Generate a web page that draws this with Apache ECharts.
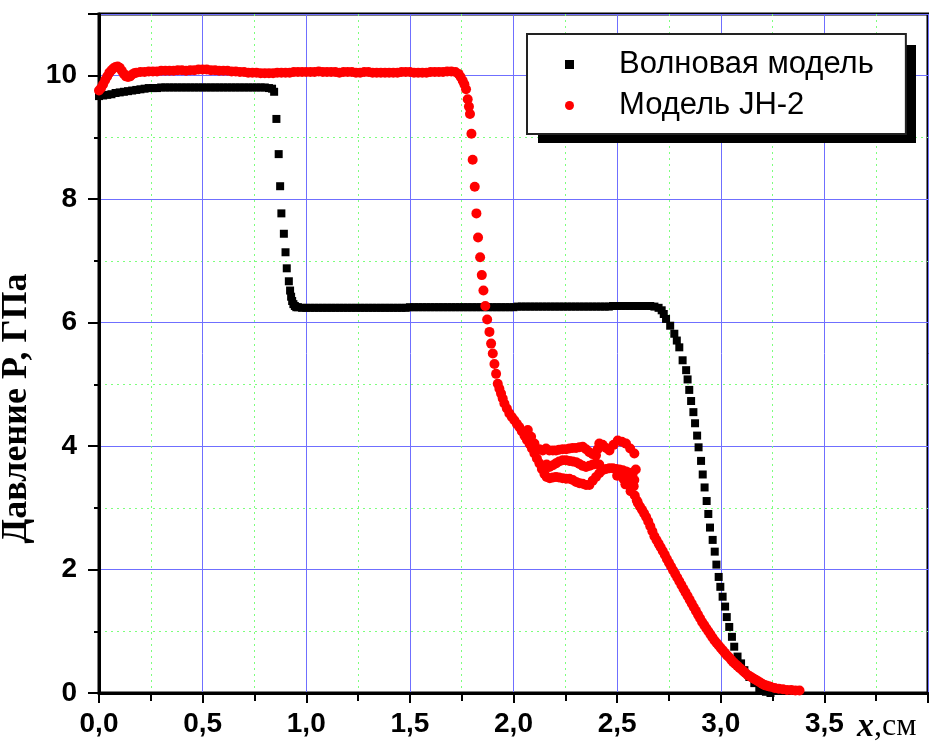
<!DOCTYPE html>
<html>
<head>
<meta charset="utf-8">
<script src="https://cdn.jsdelivr.net/npm/echarts@6/dist/echarts.min.js"></script>
<style>html,body{margin:0;padding:0;background:#fff;}#chart{width:929px;height:748px;}</style>
</head>
<body>
<div id="chart"></div>
<script>
// ---- data (x in cm, P in GPa) ----
const seriesNames = ['Волновая модель', 'Модель JH-2'];
const xTickValues = [0, 0.5, 1, 1.5, 2, 2.5, 3, 3.5];
const yTickValues = [0, 2, 4, 6, 8, 10];

// Волновая модель (black squares)
const waveHigh = [[0,9.67],[0.02,9.68],[0.04,9.69],[0.06,9.70],[0.08,9.72],[0.10,9.73],[0.12,9.74],[0.14,9.75],[0.16,9.76],[0.18,9.77],[0.20,9.78],[0.22,9.79],[0.24,9.80],[0.26,9.80],[0.28,9.80],[0.30,9.81],[0.32,9.81],[0.34,9.81],[0.36,9.81],[0.38,9.81],[0.40,9.81],[0.42,9.81],[0.44,9.81],[0.46,9.81],[0.48,9.81],[0.50,9.81],[0.52,9.81],[0.54,9.81],[0.56,9.81],[0.58,9.81],[0.60,9.81],[0.62,9.81],[0.64,9.81],[0.66,9.81],[0.68,9.81],[0.70,9.81],[0.72,9.81],[0.74,9.81],[0.76,9.81],[0.78,9.81],[0.80,9.81],[0.82,9.80]];
const waveDrop1 = [[0.835,9.79],[0.845,9.74],[0.856,9.30],[0.867,8.73],[0.874,8.21],[0.880,7.77],[0.892,7.44],[0.900,7.14],[0.906,6.88],[0.916,6.67],[0.922,6.52],[0.927,6.42],[0.932,6.35],[0.938,6.30],[0.945,6.27],[0.952,6.25]];
const waveMid = [[0.96,6.25],[0.98,6.24],[1.00,6.24],[1.02,6.24],[1.04,6.24],[1.06,6.24],[1.08,6.24],[1.10,6.24],[1.12,6.24],[1.14,6.24],[1.16,6.24],[1.18,6.24],[1.20,6.24],[1.22,6.24],[1.24,6.24],[1.26,6.24],[1.28,6.24],[1.30,6.24],[1.32,6.24],[1.34,6.24],[1.36,6.24],[1.38,6.24],[1.40,6.24],[1.42,6.24],[1.44,6.24],[1.46,6.24],[1.48,6.24],[1.50,6.25],[1.52,6.25],[1.54,6.25],[1.56,6.25],[1.58,6.25],[1.60,6.25],[1.62,6.25],[1.64,6.25],[1.66,6.25],[1.68,6.25],[1.70,6.25],[1.72,6.25],[1.74,6.25],[1.76,6.25],[1.78,6.25],[1.80,6.25],[1.82,6.25],[1.84,6.25],[1.86,6.25],[1.88,6.25],[1.90,6.25],[1.92,6.25],[1.94,6.25],[1.96,6.25],[1.98,6.25],[2.00,6.25],[2.02,6.26],[2.04,6.26],[2.06,6.26],[2.08,6.26],[2.10,6.26],[2.12,6.26],[2.14,6.26],[2.16,6.26],[2.18,6.26],[2.20,6.26],[2.22,6.26],[2.24,6.26],[2.26,6.26],[2.28,6.26],[2.30,6.26],[2.32,6.26],[2.34,6.26],[2.36,6.26],[2.38,6.26],[2.40,6.26],[2.42,6.26],[2.44,6.26],[2.46,6.26],[2.48,6.27],[2.50,6.27],[2.52,6.27],[2.54,6.27],[2.56,6.27],[2.58,6.27],[2.60,6.27],[2.62,6.27],[2.64,6.27],[2.66,6.27]];
const waveDrop2 = [[2.68,6.26],[2.70,6.24],[2.715,6.20],[2.725,6.14],[2.736,6.06],[2.756,5.95],[2.776,5.82],[2.788,5.71],[2.800,5.60],[2.816,5.39],[2.833,5.23],[2.840,5.08],[2.848,4.91],[2.857,4.73],[2.868,4.55],[2.876,4.37],[2.886,4.17],[2.893,3.98],[2.905,3.76],[2.913,3.54],[2.922,3.33],[2.932,3.11],[2.940,2.90],[2.948,2.68],[2.961,2.48],[2.971,2.29],[2.979,2.08],[2.990,1.88],[2.998,1.72],[3.009,1.56],[3.021,1.40],[3.029,1.23],[3.041,1.07],[3.054,0.91],[3.065,0.75],[3.081,0.59],[3.098,0.48],[3.114,0.37],[3.138,0.26],[3.162,0.16],[3.186,0.08],[3.218,0.02],[3.24,0.00]];

// Модель JH-2 (red circles)
const jhStart = [[0,9.76],[0.01,9.80],[0.02,9.86],[0.03,9.93],[0.04,9.99],[0.05,10.05],[0.06,10.09],[0.07,10.12],[0.08,10.14],[0.09,10.15],[0.10,10.13],[0.11,10.08],[0.12,10.03],[0.13,9.99],[0.14,9.98],[0.15,9.99],[0.16,10.02],[0.17,10.04],[0.18,10.05]];
const jhHigh = [[0.20,10.06],[0.22,10.06],[0.24,10.07],[0.26,10.07],[0.28,10.07],[0.30,10.08],[0.32,10.08],[0.34,10.08],[0.36,10.08],[0.38,10.09],[0.40,10.09],[0.42,10.08],[0.44,10.09],[0.46,10.09],[0.48,10.10],[0.50,10.10],[0.52,10.10],[0.54,10.09],[0.56,10.09],[0.58,10.08],[0.60,10.08],[0.62,10.08],[0.64,10.07],[0.66,10.07],[0.68,10.06],[0.70,10.06],[0.72,10.05],[0.74,10.05],[0.76,10.05],[0.78,10.04],[0.80,10.04],[0.82,10.04],[0.84,10.04],[0.86,10.05],[0.88,10.05],[0.90,10.05],[0.92,10.05],[0.94,10.06],[0.96,10.06],[0.98,10.06],[1.00,10.06],[1.02,10.06],[1.04,10.06],[1.06,10.07],[1.08,10.06],[1.10,10.06],[1.12,10.06],[1.14,10.06],[1.16,10.05],[1.18,10.06],[1.20,10.06],[1.22,10.06],[1.24,10.05],[1.26,10.05],[1.28,10.06],[1.30,10.06],[1.32,10.05],[1.34,10.05],[1.36,10.05],[1.38,10.05],[1.40,10.05],[1.42,10.05],[1.44,10.05],[1.46,10.06],[1.48,10.06],[1.50,10.06],[1.52,10.05],[1.54,10.05],[1.56,10.05],[1.58,10.05],[1.60,10.06],[1.62,10.06],[1.64,10.06],[1.66,10.06],[1.68,10.07],[1.70,10.07]];
const jhDrop = [[1.72,10.06],[1.735,10.03],[1.745,9.98],[1.755,9.92],[1.763,9.86],[1.771,9.78],[1.779,9.62],[1.785,9.50],[1.790,9.38],[1.797,9.06],[1.803,8.64],[1.813,8.20],[1.821,7.77],[1.829,7.38],[1.839,7.06],[1.847,6.77],[1.855,6.52],[1.864,6.27],[1.873,6.05],[1.884,5.85],[1.892,5.66],[1.900,5.50],[1.908,5.33],[1.916,5.17],[1.924,5.01],[1.932,4.93],[1.940,4.85],[1.948,4.77],[1.956,4.69],[1.968,4.61],[1.980,4.53],[1.992,4.47],[2.004,4.42],[2.016,4.36],[2.028,4.31],[2.040,4.24],[2.053,4.17],[2.065,4.10],[2.077,4.04],[2.089,3.96],[2.101,3.88],[2.113,3.80],[2.125,3.72],[2.137,3.63],[2.149,3.55],[2.160,3.50],[2.069,4.26],[2.085,4.15],[2.101,4.04]];
const jhLower = [[2.175,3.48],[2.19,3.49],[2.205,3.50],[2.22,3.49],[2.237,3.48],[2.254,3.47],[2.270,3.47],[2.286,3.45],[2.302,3.42],[2.318,3.40],[2.334,3.39],[2.350,3.37],[2.366,3.37],[2.382,3.44],[2.398,3.50],[2.414,3.56],[2.430,3.61],[2.447,3.63],[2.463,3.64],[2.479,3.64],[2.495,3.63],[2.511,3.62],[2.527,3.61],[2.543,3.59],[2.559,3.57],[2.575,3.55],[2.583,3.45],[2.58,3.35],[2.565,3.27],[2.585,3.20],[2.595,3.12],[2.50,3.52],[2.53,3.47],[2.56,3.42],[2.54,3.38],[2.57,3.50],[2.59,3.62]];
const jhMiddle = [[2.16,3.70],[2.173,3.66],[2.19,3.69],[2.205,3.72],[2.22,3.75],[2.237,3.77],[2.254,3.77],[2.27,3.76],[2.286,3.75],[2.302,3.74],[2.318,3.71],[2.334,3.68],[2.350,3.66],[2.366,3.68],[2.382,3.70],[2.398,3.72],[2.414,3.70]];
const jhUpper = [[2.125,3.95],[2.141,3.93],[2.157,3.96],[2.173,3.93],[2.19,3.93],[2.205,3.93],[2.22,3.94],[2.237,3.95],[2.254,3.95],[2.270,3.96],[2.286,3.97],[2.302,3.97],[2.318,3.98],[2.334,3.99],[2.350,3.95],[2.366,3.90],[2.382,3.87],[2.398,3.85],[2.406,3.95],[2.414,4.04],[2.43,4.02],[2.447,3.97],[2.463,3.93],[2.483,4.02],[2.503,4.09],[2.523,4.07],[2.543,4.04],[2.563,3.96],[2.583,3.88]];
const jhTail = [[2.60,3.08],[2.61,3.02],[2.62,2.97],[2.63,2.91],[2.64,2.85],[2.65,2.78],[2.66,2.70],[2.67,2.62],[2.68,2.54],[2.69,2.48],[2.70,2.42],[2.71,2.36],[2.72,2.30],[2.73,2.24],[2.74,2.17],[2.75,2.11],[2.76,2.05],[2.77,1.99],[2.78,1.93],[2.79,1.87],[2.80,1.81],[2.81,1.75],[2.82,1.69],[2.83,1.63],[2.84,1.57],[2.85,1.51],[2.86,1.45],[2.87,1.39],[2.88,1.33],[2.89,1.27],[2.90,1.21],[2.91,1.15],[2.92,1.10],[2.93,1.05],[2.94,1.00],[2.95,0.95],[2.96,0.90],[2.97,0.85],[2.98,0.81],[2.99,0.77],[3.00,0.73],[3.01,0.69],[3.02,0.65],[3.03,0.61],[3.04,0.58],[3.05,0.54],[3.06,0.50],[3.07,0.47],[3.08,0.44],[3.09,0.41],[3.10,0.38],[3.11,0.35],[3.12,0.32],[3.13,0.29],[3.14,0.27],[3.15,0.25],[3.16,0.23],[3.17,0.21],[3.18,0.19],[3.19,0.17],[3.20,0.15],[3.21,0.13],[3.22,0.12],[3.23,0.11],[3.24,0.10],[3.26,0.08],[3.28,0.07],[3.30,0.06],[3.32,0.05],[3.34,0.05],[3.36,0.04],[3.38,0.04]];

const waveData = [].concat(waveHigh, waveDrop1, waveMid, waveDrop2);
const jhData = [].concat(jhStart, jhHigh, jhDrop, jhLower, jhMiddle, jhUpper, jhTail);

const chart = echarts.init(document.getElementById('chart'), null, {renderer: 'canvas'});
const tickFont = {fontFamily: 'Liberation Sans, Arial, sans-serif', fontWeight: 'bold', fontSize: 28, color: '#000'};
const serif = 'Liberation Serif, Times New Roman, serif';
chart.setOption({
  animation: false,
  backgroundColor: '#fff',
  grid: {left: 99, right: 1, top: 14, bottom: 55, show: true, borderColor: '#000', borderWidth: 3, containLabel: false, outerBoundsMode: 'none'},
  graphic: [
    // drop shadow behind the legend box
    {type: 'rect', z: 3, silent: true, shape: {x: 538, y: 45, width: 378, height: 98}, style: {fill: '#000'}}
  ],
  legend: {
    orient: 'vertical', left: 527, top: 34, z: 5,
    padding: [15, 32, 13, 38], itemGap: 10,
    itemWidth: 9, itemHeight: 9,
    backgroundColor: '#fff', borderColor: '#222', borderWidth: 2,
    textStyle: {fontFamily: 'Liberation Sans, Arial, sans-serif', fontSize: 31, color: '#000', lineHeight: 30, padding: [0, 0, 0, 40]},
    data: [{name: seriesNames[0], icon: 'rect'}, {name: seriesNames[1], icon: 'circle'}]
  },
  xAxis: {
    type: 'value', min: 0, max: 4, interval: 0.5,
    name: '{i|x}{n|,см}', nameLocation: 'end', nameGap: -71,
    nameTextStyle: {
      align: 'left', verticalAlign: 'top', padding: [17, 0, 0, 0],
      rich: {
        i: {fontFamily: serif, fontStyle: 'italic', fontWeight: 'bold', fontSize: 34, color: '#000'},
        n: {fontFamily: serif, fontSize: 32, color: '#000'}
      }
    },
    axisLine: {onZero: false, lineStyle: {color: '#000', width: 3}},
    axisTick: {show: true, length: 10, lineStyle: {color: '#000', width: 2}},
    minorTick: {show: true, splitNumber: 2, length: 8, lineStyle: {color: '#000', width: 2}},
    axisLabel: Object.assign({margin: 17, showMaxLabel: false, formatter: v => xTickValues.indexOf(v) >= 0 ? v.toFixed(1).replace('.', ',') : ''}, tickFont),
    splitLine: {show: true, lineStyle: {color: '#6f6fff', width: 1}},
    minorSplitLine: {show: true, lineStyle: {color: '#7dff7d', width: 1, type: [2, 4]}}
  },
  yAxis: {
    type: 'value', min: 0, max: 11, interval: 2,
    name: 'Давление P, ГПа', nameLocation: 'middle', nameGap: 57, nameRotate: 90,
    nameTextStyle: {fontFamily: serif, fontWeight: 'bold', fontSize: 36, color: '#000', padding: [0, 110, 0, 0]},
    axisLine: {onZero: false, lineStyle: {color: '#000', width: 3}},
    axisTick: {show: true, length: 11, lineStyle: {color: '#000', width: 2}},
    minorTick: {show: true, splitNumber: 2, length: 5, lineStyle: {color: '#000', width: 2}},
    axisLabel: Object.assign({margin: 22, showMaxLabel: false, formatter: v => yTickValues.indexOf(v) >= 0 ? String(v) : ''}, tickFont),
    splitLine: {show: true, lineStyle: {color: '#6f6fff', width: 1}},
    minorSplitLine: {show: true, lineStyle: {color: '#7dff7d', width: 1, type: [2, 4]}}
  },
  series: [
    {name: seriesNames[0], type: 'scatter', symbol: 'rect', symbolSize: 8, itemStyle: {color: '#000', opacity: 1}, data: waveData, z: 3},
    {name: seriesNames[1], type: 'scatter', symbol: 'circle', symbolSize: 10, itemStyle: {color: '#ff0000', opacity: 1}, data: jhData, z: 4}
  ]
});
</script>
</body>
</html>
